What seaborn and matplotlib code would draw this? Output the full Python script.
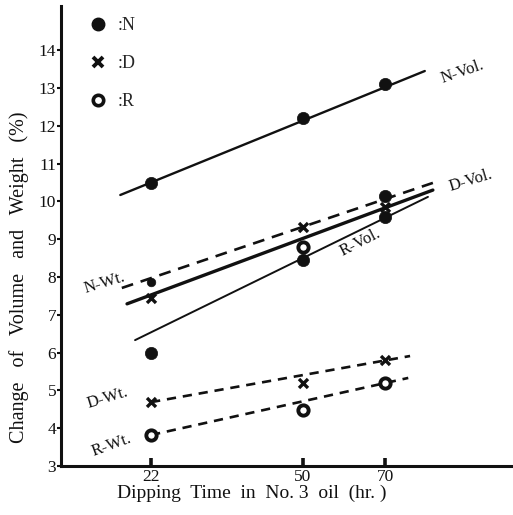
import numpy as np
import pandas as pd
import matplotlib
matplotlib.use("Agg")
import matplotlib.pyplot as plt
from matplotlib.lines import Line2D
import seaborn as sns

# ---------------- data ----------------
hours = [22, 50, 70]
x_ticks = [22, 50, 70]
y_ticks = [3, 4, 5, 6, 7, 8, 9, 10, 11, 12, 13, 14]

vol_N = [10.5, 12.2, 13.1]
wt_N = [7.87, 9.32, 10.15]
vol_D = [7.45, 8.80, 9.85]
wt_D = [4.69, 5.20, 5.80]
vol_R = [6.00, 8.45, 9.60]
wt_R = [3.82, 4.48, 5.20]

# fitted straight lines: names, start/end hour, start/end value
fit_names = ["N-Vol.", "N-Wt.", "D-Vol.", "R-Vol.", "D-Wt.", "R-Wt."]
fit_x0 = [17.7, 17.9, 18.6, 19.7, 22.0, 22.0]
fit_x1 = [80.8, 83.1, 83.1, 81.7, 76.7, 76.2]
fit_y0 = [10.17, 7.71, 7.29, 6.33, 4.69, 3.82]
fit_y1 = [13.45, 10.49, 10.30, 10.12, 5.91, 5.33]

# curve labels: position (hour, value) and angle
lab_x = [91.9, 15.7, 94.3, 63.5, 16.0, 16.6]
lab_y = [13.42, 7.84, 10.54, 8.90, 4.80, 3.56]
lab_rot = [19, 17, 17, 27, 17, 20]

# ---------------- style ----------------
sns.set_theme(style="ticks")
plt.rcParams["font.family"] = ["Liberation Serif", "DejaVu Serif"]

fig = plt.figure(figsize=(5.13, 5.15), dpi=100)
fig.patch.set_facecolor("white")
ax = fig.add_axes([61 / 513, 49 / 515, 451 / 513, 460 / 515])
ax.set_facecolor("white")

fwd = lambda v: np.sqrt(np.clip(v, 0, None))
inv = lambda v: np.square(v)
ax.set_xscale("function", functions=(fwd, inv))

K = "#111111"
styles = {
    "N-Vol.": dict(lw=1.7, ls="-"),
    "N-Wt.": dict(lw=1.9, ls=(0, (4.5, 3.0))),
    "D-Vol.": dict(lw=2.4, ls="-"),
    "R-Vol.": dict(lw=1.4, ls="-"),
    "D-Wt.": dict(lw=1.9, ls=(0, (3.5, 2.6))),
    "R-Wt.": dict(lw=1.9, ls=(0, (3.5, 2.6))),
}
for i, name in enumerate(fit_names):
    st = styles[name]
    sns.lineplot(x=[fit_x0[i], fit_x1[i]], y=[fit_y0[i], fit_y1[i]], ax=ax,
                 color=K, linewidth=st["lw"], linestyle=st["ls"],
                 errorbar=None, sort=False, legend=False)

# marks as they appear on the figure
filled_x = hours + [70] + hours
filled_y = vol_N + [wt_N[2]] + vol_R
sns.scatterplot(x=filled_x, y=filled_y, ax=ax, marker="o", s=78,
                color=K, edgecolor=K, linewidth=0.5, zorder=5, legend=False)
sns.scatterplot(x=[22], y=[wt_N[0]], ax=ax, marker="o", s=38,
                color=K, edgecolor=K, linewidth=0.5, zorder=5, legend=False)
cross_x = [22, 50, 70] + hours
cross_y = [vol_D[0], wt_N[1], vol_D[2]] + wt_D
sns.scatterplot(x=cross_x, y=cross_y, ax=ax, marker="x", s=42,
                color=K, linewidth=2.4, zorder=6, legend=False)
ring_x = [50] + hours
ring_y = [vol_D[1]] + wt_R
sns.scatterplot(x=ring_x, y=ring_y, ax=ax, marker="o", s=55,
                facecolor="white", edgecolor=K, linewidth=2.8, zorder=6, legend=False)

for i, name in enumerate(fit_names):
    ax.text(lab_x[i], lab_y[i], name, rotation=lab_rot[i], rotation_mode="anchor",
            ha="center", va="center", fontsize=12, color=K)

# legend
handles = [
    Line2D([], [], marker="o", ls="none", color=K, markersize=9),
    Line2D([], [], marker="x", ls="none", color=K, markersize=6.5, markeredgewidth=2.8),
    Line2D([], [], marker="o", ls="none", markerfacecolor="white", markeredgecolor=K,
           markersize=7.5, markeredgewidth=2.6),
]
leg = ax.legend(handles, [":N", ":D", ":R"], loc="upper left",
                bbox_to_anchor=(0.062, 0.975), frameon=False, fontsize=13,
                handlelength=1.0, handletextpad=0.6, labelspacing=1.15,
                borderaxespad=0, borderpad=0)

# axes
ax.set_xlim(10.73, 107.3)
ax.set_ylim(3, 15.17)
ax.set_xticks(x_ticks)
ax.set_xticklabels([str(v) for v in x_ticks])
ax.set_yticks(y_ticks)
ax.set_yticklabels([str(v) for v in y_ticks])
ax.minorticks_off()
for s in ["top", "right"]:
    ax.spines[s].set_visible(False)
for s in ["left", "bottom"]:
    ax.spines[s].set_linewidth(2.2)
    ax.spines[s].set_color(K)
ax.tick_params(axis="x", direction="in", length=6, width=2.6, pad=2,
               labelsize=12.5, colors=K)
ax.tick_params(axis="y", direction="out", length=3, width=1.5, pad=0.5,
               labelsize=12.5, colors=K)

ax.set_xlabel("Dipping  Time  in  No. 3  oil  (hr. )", fontsize=14, color=K)
ax.xaxis.set_label_coords(0.424, -0.04)
ax.set_ylabel("Change   of   Volume   and   Weight   (%)", fontsize=14.5, color=K)
ax.yaxis.set_label_coords(-0.072, 0.41)

fig.savefig("out.png", dpi=100, facecolor="white")
